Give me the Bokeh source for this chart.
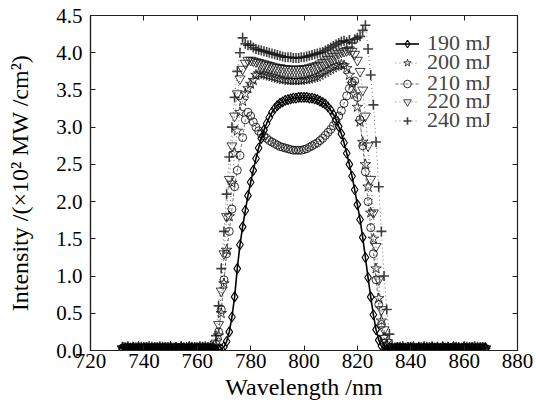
from bokeh.plotting import figure
from bokeh.models import (Range1d, LinearAxis, Legend, LegendItem, FixedTicker,
                          NumeralTickFormatter, CustomJSTickFormatter)
from bokeh.embed import file_html
from bokeh.resources import INLINE

wl = [732, 733, 734, 735, 736, 737, 738, 739, 740, 741,
      742, 743, 744, 745, 746, 747, 748, 749, 750, 751,
      752, 753, 754, 755, 756, 757, 758, 759, 760, 761,
      762, 763, 764, 765, 766, 767, 768, 769, 770, 771,
      772, 773, 774, 775, 776, 777, 778, 779, 780, 781,
      782, 783, 784, 785, 786, 787, 788, 789, 790, 791,
      792, 793, 794, 795, 796, 797, 798, 799, 800, 801,
      802, 803, 804, 805, 806, 807, 808, 809, 810, 811,
      812, 813, 814, 815, 816, 817, 818, 819, 820, 821,
      822, 823, 824, 825, 826, 827, 828, 829, 830, 831,
      832, 833, 834, 835, 836, 837, 838, 839, 840, 841,
      842, 843, 844, 845, 846, 847, 848, 849, 850, 851,
      852, 853, 854, 855, 856, 857, 858, 859, 860, 861,
      862, 863, 864, 865, 866, 867, 868]

s190 = [0.02, 0.03, 0.02, 0.03, 0.02, 0.02, 0.03, 0.02, 0.03, 0.02,
        0.02, 0.03, 0.02, 0.03, 0.02, 0.02, 0.03, 0.02, 0.03, 0.02,
        0.02, 0.03, 0.02, 0.03, 0.02, 0.02, 0.03, 0.02, 0.03, 0.02,
        0.02, 0.03, 0.02, 0.02, 0.01, 0.01, 0.01, 0.02, 0.05, 0.12,
        0.25, 0.45, 0.72, 1.10, 1.42, 1.66, 1.88, 2.08, 2.26, 2.42,
        2.58, 2.72, 2.85, 2.96, 3.05, 3.13, 3.20, 3.25, 3.29, 3.32,
        3.34, 3.36, 3.37, 3.38, 3.39, 3.39, 3.40, 3.40, 3.40, 3.40,
        3.39, 3.39, 3.38, 3.37, 3.35, 3.33, 3.31, 3.27, 3.23, 3.17,
        3.10, 3.01, 2.91, 2.79, 2.65, 2.50, 2.34, 2.16, 1.96, 1.76,
        1.52, 1.25, 0.98, 0.72, 0.48, 0.28, 0.14, 0.06, 0.02, 0.01,
        0.01, 0.02, 0.02, 0.03, 0.02, 0.03, 0.02, 0.02, 0.03, 0.02,
        0.02, 0.03, 0.02, 0.03, 0.02, 0.02, 0.03, 0.02, 0.03, 0.02,
        0.02, 0.03, 0.02, 0.03, 0.02, 0.02, 0.03, 0.02, 0.03, 0.02,
        0.02, 0.03, 0.02, 0.03, 0.02, 0.02, 0.03]

s200 = [0.04, 0.02, 0.05, 0.03, 0.04, 0.02, 0.05, 0.03, 0.04, 0.03,
        0.05, 0.02, 0.04, 0.03, 0.05, 0.03, 0.02, 0.04, 0.05, 0.03,
        0.04, 0.02, 0.05, 0.03, 0.04, 0.05, 0.03, 0.04, 0.02, 0.05,
        0.04, 0.05, 0.03, 0.05, 0.03, 0.06, 0.20, 0.50, 0.90, 1.35,
        1.80, 2.25, 2.65, 2.95, 3.20, 3.35, 3.45, 3.52, 3.58, 3.63,
        3.70, 3.72, 3.72, 3.71, 3.70, 3.69, 3.68, 3.67, 3.66, 3.65,
        3.64, 3.64, 3.63, 3.63, 3.63, 3.63, 3.63, 3.63, 3.64, 3.64,
        3.65, 3.66, 3.67, 3.68, 3.70, 3.72, 3.74, 3.76, 3.78, 3.80,
        3.82, 3.83, 3.84, 3.83, 3.79, 3.70, 3.58, 3.44, 3.27, 3.07,
        2.80, 2.50, 2.20, 1.85, 1.50, 1.10, 0.70, 0.40, 0.18, 0.07,
        0.03, 0.02, 0.02, 0.04, 0.03, 0.05, 0.02, 0.04, 0.03, 0.05,
        0.03, 0.04, 0.02, 0.05, 0.03, 0.04, 0.05, 0.02, 0.04, 0.03,
        0.05, 0.03, 0.04, 0.02, 0.05, 0.03, 0.04, 0.03, 0.05, 0.02,
        0.04, 0.03, 0.05, 0.02, 0.04, 0.03, 0.04]

s210 = [0.03, 0.05, 0.02, 0.04, 0.03, 0.05, 0.03, 0.02, 0.04, 0.05,
        0.03, 0.04, 0.02, 0.05, 0.04, 0.03, 0.05, 0.02, 0.03, 0.04,
        0.05, 0.03, 0.04, 0.02, 0.03, 0.05, 0.04, 0.03, 0.05, 0.02,
        0.04, 0.03, 0.05, 0.04, 0.03, 0.08, 0.25, 0.55, 0.95, 1.30,
        1.60, 1.90, 2.20, 2.42, 2.62, 2.86, 3.10, 3.20, 3.15, 3.07,
        3.00, 2.95, 2.91, 2.88, 2.85, 2.82, 2.80, 2.78, 2.76, 2.74,
        2.73, 2.72, 2.71, 2.70, 2.69, 2.69, 2.69, 2.69, 2.70, 2.71,
        2.73, 2.75, 2.77, 2.79, 2.82, 2.85, 2.89, 2.93, 2.97, 3.02,
        3.08, 3.15, 3.22, 3.32, 3.42, 3.52, 3.60, 3.62, 3.40, 3.10,
        2.75, 2.40, 2.00, 1.65, 1.30, 0.95, 0.62, 0.35, 0.16, 0.07,
        0.04, 0.03, 0.02, 0.05, 0.03, 0.04, 0.02, 0.05, 0.03, 0.04,
        0.02, 0.04, 0.05, 0.03, 0.04, 0.02, 0.05, 0.03, 0.04, 0.03,
        0.05, 0.02, 0.04, 0.03, 0.05, 0.04, 0.02, 0.03, 0.05, 0.04,
        0.03, 0.05, 0.02, 0.04, 0.03, 0.05, 0.03]

s220 = [0.02, 0.04, 0.03, 0.05, 0.02, 0.04, 0.03, 0.05, 0.02, 0.03,
        0.04, 0.05, 0.03, 0.02, 0.04, 0.03, 0.05, 0.04, 0.02, 0.03,
        0.03, 0.05, 0.02, 0.04, 0.05, 0.03, 0.02, 0.04, 0.03, 0.05,
        0.03, 0.02, 0.04, 0.03, 0.04, 0.10, 0.35, 0.80, 1.30, 1.80,
        2.30, 2.75, 3.15, 3.45, 3.65, 3.78, 3.86, 3.90, 3.90, 3.89,
        3.88, 3.87, 3.86, 3.85, 3.84, 3.83, 3.82, 3.81, 3.80, 3.80,
        3.79, 3.79, 3.78, 3.78, 3.78, 3.78, 3.78, 3.78, 3.79, 3.79,
        3.80, 3.81, 3.82, 3.83, 3.85, 3.87, 3.89, 3.91, 3.93, 3.95,
        3.97, 3.99, 4.01, 4.02, 4.03, 4.04, 4.02, 3.98, 3.90, 3.75,
        3.50, 3.15, 2.75, 2.30, 1.85, 1.40, 0.95, 0.55, 0.28, 0.11,
        0.05, 0.03, 0.02, 0.04, 0.05, 0.03, 0.02, 0.04, 0.03, 0.05,
        0.02, 0.03, 0.05, 0.04, 0.02, 0.03, 0.05, 0.04, 0.03, 0.02,
        0.04, 0.05, 0.03, 0.02, 0.04, 0.03, 0.05, 0.02, 0.04, 0.03,
        0.05, 0.02, 0.03, 0.04, 0.05, 0.03, 0.02]

s240 = [0.05, 0.03, 0.04, 0.02, 0.05, 0.03, 0.04, 0.05, 0.02, 0.04,
        0.03, 0.05, 0.04, 0.02, 0.03, 0.05, 0.04, 0.03, 0.05, 0.02,
        0.04, 0.03, 0.05, 0.04, 0.02, 0.03, 0.05, 0.04, 0.03, 0.04,
        0.05, 0.03, 0.04, 0.02, 0.05, 0.20, 0.60, 1.10, 1.60, 2.10,
        2.60, 3.00, 3.40, 3.75, 4.00, 4.20, 4.12, 4.10, 4.10, 4.07,
        4.05, 4.04, 4.03, 4.02, 4.01, 4.00, 3.99, 3.98, 3.97, 3.96,
        3.95, 3.94, 3.94, 3.94, 3.93, 3.93, 3.93, 3.94, 3.94, 3.95,
        3.96, 3.97, 3.98, 3.99, 4.00, 4.01, 4.03, 4.05, 4.07, 4.09,
        4.11, 4.13, 4.15, 4.16, 4.14, 4.17, 4.13, 4.18, 4.20, 4.22,
        4.30, 4.37, 4.05, 3.70, 3.30, 2.80, 2.20, 1.60, 1.00, 0.55,
        0.22, 0.08, 0.04, 0.03, 0.05, 0.02, 0.04, 0.03, 0.05, 0.04,
        0.02, 0.05, 0.03, 0.04, 0.05, 0.02, 0.03, 0.04, 0.05, 0.03,
        0.04, 0.02, 0.05, 0.03, 0.04, 0.05, 0.03, 0.02, 0.04, 0.05,
        0.03, 0.04, 0.02, 0.05, 0.03, 0.04, 0.03]

labels = ["190 mJ", "200 mJ", "210 mJ", "220 mJ", "240 mJ"]
x_ticks = [720, 740, 760, 780, 800, 820, 840, 860, 880]
y_ticks = [0.0, 0.5, 1.0, 1.5, 2.0, 2.5, 3.0, 3.5, 4.0, 4.5]

FONT = "Liberation Serif"
INK = "#222222"

p = figure(width=536, height=419, output_backend="svg", toolbar_location=None,
           x_range=Range1d(720, 880), y_range=Range1d(0, 4.5),
           min_border_left=90, min_border_right=19, min_border_top=15,
           min_border_bottom=69)
p.xgrid.visible = False
p.ygrid.visible = False
p.outline_line_color = INK
p.outline_line_width = 1.2
p.background_fill_color = "white"

mk = "#111111"
r240l = p.line(wl, s240, line_color=mk, line_width=1, line_dash="1 3", line_alpha=0.6)
r240m = p.scatter(wl, s240, marker="cross", size=10, line_color=mk, line_width=1.6, line_alpha=0.8)
r220l = p.line(wl, s220, line_color=mk, line_width=1, line_dash="1 3", line_alpha=0.6)
r220m = p.scatter(wl, s220, marker="inverted_triangle", size=10, line_color=mk,
                  fill_alpha=0, line_width=1, line_alpha=0.8)
r210l = p.line(wl, s210, line_color=mk, line_width=1, line_dash="3 2", line_alpha=0.6)
r210m = p.scatter(wl, s210, marker="circle", size=8, line_color=mk,
                  fill_alpha=0, line_width=1, line_alpha=0.85)
r200l = p.line(wl, s200, line_color=mk, line_width=1, line_dash="1 3", line_alpha=0.6)
r200m = p.scatter(wl, s200, marker="star", size=11, line_color=mk,
                  fill_alpha=0, line_width=1, line_alpha=0.8)
r190l = p.line(wl, s190, line_color="black", line_width=1.6)
r190m = p.scatter(wl, s190, marker="diamond", size=10, line_color="black",
                  fill_alpha=0.0, line_width=1.1)

for ax in (p.xaxis[0], p.yaxis[0]):
    ax.major_label_text_font = FONT
    ax.major_label_text_font_size = "21px"
    ax.major_label_text_color = "black"
    ax.axis_label_text_font = FONT
    ax.axis_label_text_font_style = "normal"
    ax.axis_label_text_color = "black"
    ax.major_tick_in = 5
    ax.major_tick_out = 0
    ax.minor_tick_line_color = None
    ax.axis_line_color = INK
    ax.axis_line_width = 1.2
    ax.major_tick_line_color = INK

p.xaxis[0].ticker = FixedTicker(ticks=x_ticks)
p.yaxis[0].ticker = FixedTicker(ticks=y_ticks)
p.yaxis[0].formatter = NumeralTickFormatter(format="0.0")
p.xaxis[0].axis_label = "Wavelength /nm"
p.yaxis[0].axis_label = "Intensity /(\u00d710\u00b2 MW /cm\u00b2)"
p.xaxis[0].axis_label_text_font_size = "24px"
p.yaxis[0].axis_label_text_font_size = "24px"
p.xaxis[0].major_label_standoff = 3
p.xaxis[0].axis_label_standoff = 3
p.yaxis[0].major_label_standoff = 8
p.yaxis[0].axis_label_standoff = 20

blank = CustomJSTickFormatter(code="return ''")
top_ax = LinearAxis(ticker=FixedTicker(ticks=x_ticks), formatter=blank,
                    major_label_standoff=0, major_tick_in=5, major_tick_out=0,
                    minor_tick_line_color=None, axis_line_color=INK,
                    major_tick_line_color=INK)
right_ax = LinearAxis(ticker=FixedTicker(ticks=y_ticks), formatter=blank,
                      major_label_standoff=0, major_tick_in=5, major_tick_out=0,
                      minor_tick_line_color=None, axis_line_color=INK,
                      major_tick_line_color=INK)
p.add_layout(top_ax, "above")
p.add_layout(right_ax, "right")

# one single-row legend per series, so rows can sit as tightly as in the reference
row_renderers = [[r190l, r190m], [r200l, r200m], [r210l, r210m],
                 [r220l, r220m], [r240l, r240m]]
row_bottoms = [294, 275, 254, 236, 217]
for lab, rends, yb in zip(labels, row_renderers, row_bottoms):
    lg = Legend(items=[LegendItem(label=lab, renderers=rends)], location=(305, yb))
    lg.label_text_font = FONT
    lg.label_text_font_size = "22px"
    lg.label_height = 19
    lg.glyph_height = 19
    lg.glyph_width = 24
    lg.label_standoff = 8
    lg.padding = 0
    lg.margin = 0
    lg.border_line_alpha = 0
    lg.background_fill_alpha = 0
    p.add_layout(lg, "center")

open("out.html", "w").write(file_html(p, INLINE))
